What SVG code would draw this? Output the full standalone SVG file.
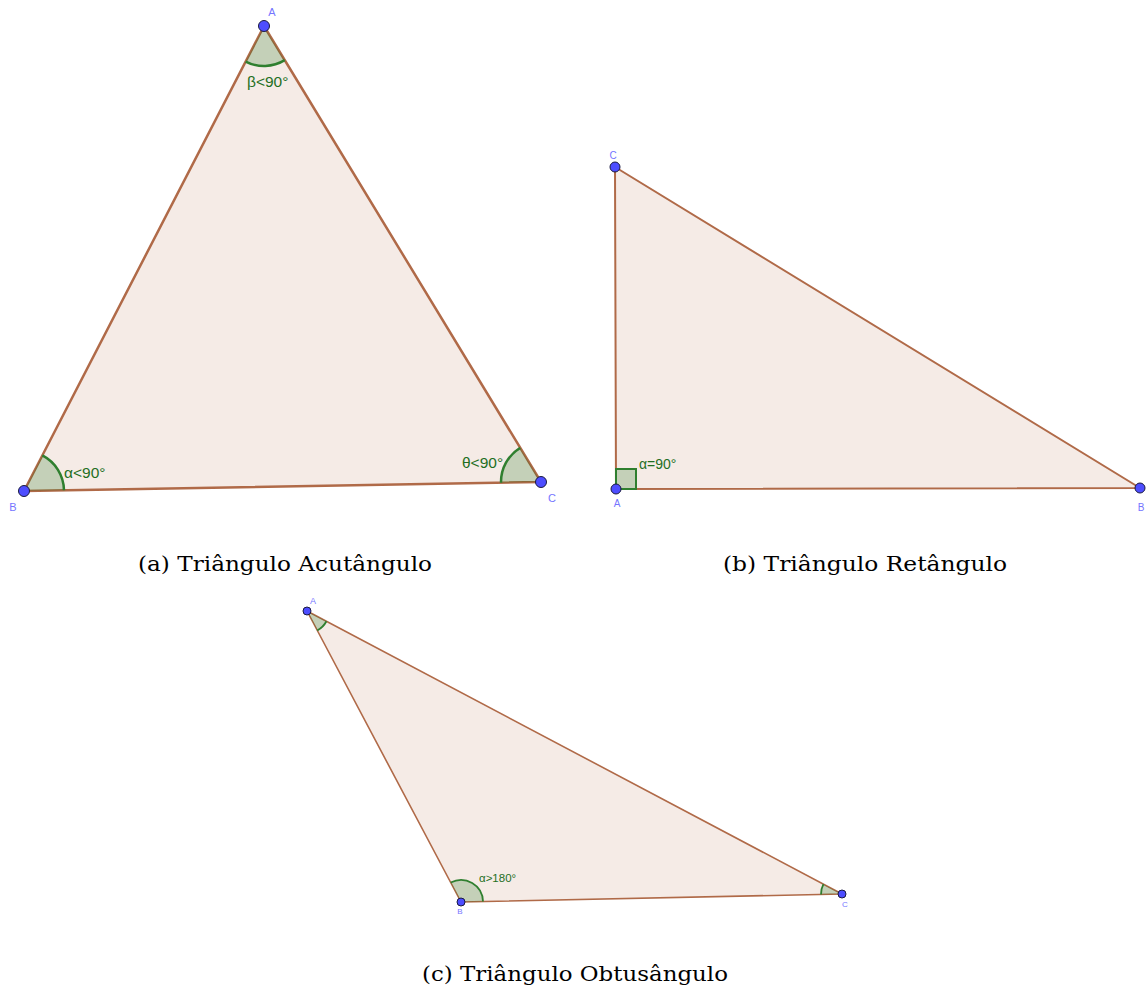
<svg xmlns="http://www.w3.org/2000/svg" width="1148" height="989" viewBox="0 0 1148 989">
<style>
.tri{fill:#f5ebe6;stroke:#b06a48;stroke-linejoin:round}
.wedge{fill:#006400;fill-opacity:0.2;stroke:none}
.arc{fill:none;stroke:#2f7f2f}
.pt{fill:#4d4dff;stroke:#1a1a40;stroke-width:1}
.vl{font-family:"Liberation Sans",Arial,sans-serif;fill:#7575ff;text-anchor:middle}
.al{font-family:"Liberation Sans",Arial,sans-serif;fill:#1f6f1f}
.cap{font-family:"DejaVu Serif","Liberation Serif",serif;font-size:20px;fill:#000}
</style>
<rect width="1148" height="989" fill="#ffffff"/>

<g id="fig-a">
  <polygon class="tri" points="264,26 24,491 541,482" stroke-width="2.5"/>
  <g id="a-angle-A">
    <path class="wedge" d="M264,26 L245.66,61.54 A40,40 0 0 0 284.77,60.19 Z"/>
    <path class="arc" stroke-width="2.5" d="M245.66,61.54 A40,40 0 0 0 284.77,60.19"/>
    <text class="al" x="247" y="87" font-size="15.5">β&lt;90°</text>
  </g>
  <g id="a-angle-B">
    <path class="wedge" d="M24,491 L63.99,490.30 A40,40 0 0 0 42.34,455.46 Z"/>
    <path class="arc" stroke-width="2.5" d="M63.99,490.30 A40,40 0 0 0 42.34,455.46"/>
    <text class="al" x="64" y="478" font-size="15.5">α&lt;90°</text>
  </g>
  <g id="a-angle-C">
    <path class="wedge" d="M541,482 L520.23,447.81 A40,40 0 0 0 501.01,482.70 Z"/>
    <path class="arc" stroke-width="2.5" d="M520.23,447.81 A40,40 0 0 0 501.01,482.70"/>
    <text class="al" x="462" y="468" font-size="15.5">θ&lt;90°</text>
  </g>
  <g id="a-A"><circle class="pt" cx="264" cy="26" r="5.5"/><text class="vl" x="272" y="16" font-size="11">A</text></g>
  <g id="a-B"><circle class="pt" cx="24" cy="491" r="5.5"/><text class="vl" x="13" y="511" font-size="11">B</text></g>
  <g id="a-C"><circle class="pt" cx="541" cy="482" r="5.5"/><text class="vl" x="552" y="502" font-size="11">C</text></g>
  <text class="cap" x="138" y="571" textLength="294" lengthAdjust="spacingAndGlyphs">(a) Triângulo Acutângulo</text>
</g>

<g id="fig-b">
  <polygon class="tri" points="615,167 616,489 1140,488" stroke-width="2"/>
  <g id="b-angle-A">
    <rect x="616" y="469" width="20" height="20" fill="#006400" fill-opacity="0.2" stroke="#2f7f2f" stroke-width="2"/>
    <text class="al" x="639" y="469" font-size="14">α=90°</text>
  </g>
  <g id="b-C"><circle class="pt" cx="615" cy="167" r="5"/><text class="vl" x="613" y="159" font-size="10">C</text></g>
  <g id="b-A"><circle class="pt" cx="616" cy="489" r="5"/><text class="vl" x="617" y="507" font-size="10">A</text></g>
  <g id="b-B"><circle class="pt" cx="1140" cy="488" r="5"/><text class="vl" x="1141" y="511" font-size="10">B</text></g>
  <text class="cap" x="723" y="571" textLength="284" lengthAdjust="spacingAndGlyphs">(b) Triângulo Retângulo</text>
</g>

<g id="fig-c">
  <polygon class="tri" points="307,611 461,902 842,894" stroke-width="1.6"/>
  <g id="c-angle-A">
    <path class="wedge" d="M307,611 L317.29,630.45 A22,22 0 0 0 326.45,621.29 Z"/>
    <path class="arc" stroke-width="1.8" d="M317.29,630.45 A22,22 0 0 0 326.45,621.29"/>
  </g>
  <g id="c-angle-B">
    <path class="wedge" d="M461,902 L483,901.54 A22,22 0 0 0 450.71,882.55 Z"/>
    <path class="arc" stroke-width="1.8" d="M483,901.54 A22,22 0 0 0 450.71,882.55"/>
    <text class="al" x="479" y="882" font-size="11.5">α&gt;180°</text>
  </g>
  <g id="c-angle-C">
    <path class="wedge" d="M842,894 L823.44,884.18 A21,21 0 0 0 821,894.44 Z"/>
    <path class="arc" stroke-width="1.8" d="M823.44,884.18 A21,21 0 0 0 821,894.44"/>
  </g>
  <g id="c-A"><circle class="pt" cx="307" cy="611" r="4"/><text class="vl" x="313" y="604" font-size="9">A</text></g>
  <g id="c-B"><circle class="pt" cx="461" cy="902" r="4"/><text class="vl" x="460" y="914" font-size="8">B</text></g>
  <g id="c-C"><circle class="pt" cx="842" cy="894" r="4"/><text class="vl" x="845" y="907" font-size="8">C</text></g>
  <text class="cap" x="422" y="981" textLength="306" lengthAdjust="spacingAndGlyphs">(c) Triângulo Obtusângulo</text>
</g>
</svg>
